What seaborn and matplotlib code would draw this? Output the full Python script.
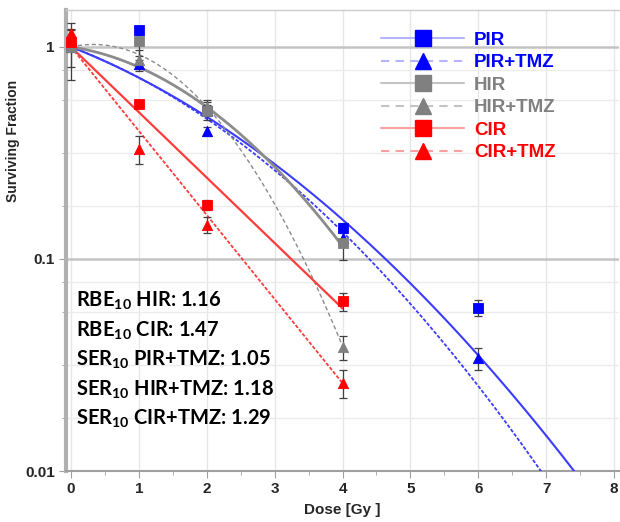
import numpy as np
import pandas as pd
import seaborn as sns
import matplotlib
matplotlib.use("Agg")
import matplotlib.pyplot as plt
from matplotlib.lines import Line2D
from matplotlib.ticker import FixedLocator, NullFormatter

series = ["PIR", "PIR+TMZ", "HIR", "HIR+TMZ", "CIR", "CIR+TMZ"]
dose = {
    "PIR": [0, 1, 2, 4, 6],
    "PIR+TMZ": [0, 1, 2, 4, 6],
    "HIR": [0, 1, 2, 4],
    "HIR+TMZ": [0, 1, 2, 4],
    "CIR": [0, 1, 2, 4],
    "CIR+TMZ": [0, 1, 2, 4],
}
sf = {
    "PIR": [1.0, 1.20, 0.50, 0.140, 0.059],
    "PIR+TMZ": [1.0, 0.83, 0.40, 0.126, 0.034],
    "HIR": [1.0, 1.07, 0.50, 0.119],
    "HIR+TMZ": [1.0, 0.87, 0.52, 0.0385],
    "CIR": [1.05, 0.54, 0.180, 0.063],
    "CIR+TMZ": [1.16, 0.33, 0.145, 0.026],
}
sf_err = {
    "PIR": [0.03, 0.06, 0.03, 0.008, 0.005],
    "PIR+TMZ": [0.03, 0.04, 0.02, 0.008, 0.004],
    "HIR": [0.3, 0.16, 0.05, 0.02],
    "HIR+TMZ": [0.2, 0.1, 0.04, 0.005],
    "CIR": [0.04, 0.02, 0.01, 0.006],
    "CIR+TMZ": [0.05, 0.05, 0.012, 0.004],
}
# linear-quadratic fit parameters (alpha, beta) and fitted dose range
lq_alpha = {"PIR": 0.29, "PIR+TMZ": 0.279, "HIR": 0.113, "HIR+TMZ": -0.16, "CIR": 0.71, "CIR+TMZ": 0.913}
lq_beta = {"PIR": 0.0447, "PIR+TMZ": 0.0558, "HIR": 0.107, "HIR+TMZ": 0.243, "CIR": 0.0, "CIR+TMZ": 0.0}
fit_max = {"PIR": 8.1, "PIR+TMZ": 8.1, "HIR": 4, "HIR+TMZ": 4, "CIR": 4, "CIR+TMZ": 4}

notes = [r"RBE$_{10}$ HIR: 1.16", r"RBE$_{10}$ CIR: 1.47", r"SER$_{10}$ PIR+TMZ: 1.05",
         r"SER$_{10}$ HIR+TMZ: 1.18", r"SER$_{10}$ CIR+TMZ: 1.29"]

# styles
mark_col = {"PIR": "#0000ff", "PIR+TMZ": "#0000ff", "HIR": "#808080", "HIR+TMZ": "#808080",
            "CIR": "#ff0000", "CIR+TMZ": "#ff0000"}
line_col = {"PIR": "#3c3cff", "PIR+TMZ": "#3c3cff", "HIR": "#8c8c8c", "HIR+TMZ": "#8c8c8c",
            "CIR": "#ff3c3c", "CIR+TMZ": "#ff3c3c"}
leg_line_col = {"PIR": "#b4b4ff", "PIR+TMZ": "#b4b4ff", "HIR": "#c4c4c4", "HIR+TMZ": "#c4c4c4",
                "CIR": "#ffa0a0", "CIR+TMZ": "#ffa0a0"}
line_dash = {"PIR": "-", "PIR+TMZ": (0, (2, 1)), "HIR": "-", "HIR+TMZ": (0, (3, 2)),
             "CIR": "-", "CIR+TMZ": (0, (2, 1))}
leg_dash = {"PIR": "-", "PIR+TMZ": (0, (4, 3)), "HIR": "-", "HIR+TMZ": (0, (4, 3)),
            "CIR": "-", "CIR+TMZ": (0, (4, 3))}
line_w = {"PIR": 1.5, "PIR+TMZ": 1.3, "HIR": 2.0, "HIR+TMZ": 1.0, "CIR": 1.6, "CIR+TMZ": 1.3}
marker = {s: ("s" if "TMZ" not in s else "^") for s in series}

sns.set_style("white")
plt.rcParams["font.family"] = ["Liberation Sans", "DejaVu Sans"]
plt.rcParams["font.weight"] = "bold"
plt.rcParams["mathtext.fontset"] = "custom"
plt.rcParams["mathtext.rm"] = "Lato:bold"
plt.rcParams["mathtext.default"] = "rm"

fig = plt.figure(figsize=(6.2, 5.22), dpi=100)
ax = fig.add_axes([0.1065, 0.0977, 0.8915, 0.8833])

# fitted curves
rows = []
for s in series:
    d = np.linspace(0, fit_max[s], 200)
    rows.append(pd.DataFrame({"dose": d, "sf": np.exp(-lq_alpha[s] * d - lq_beta[s] * d ** 2), "series": s}))
curves = pd.concat(rows)
for s in series:
    sns.lineplot(data=curves[curves.series == s], x="dose", y="sf", ax=ax, color=line_col[s],
                 linestyle=line_dash[s], lw=line_w[s], zorder=3)

# measured points with error bars
for s in series:
    ax.errorbar(dose[s], sf[s], yerr=sf_err[s], fmt="none", ecolor="#404040", elinewidth=0.9,
                capsize=3, capthick=0.9, zorder=4)
    sns.scatterplot(x=dose[s], y=sf[s], ax=ax, marker=marker[s], color=mark_col[s], s=55,
                    edgecolor=mark_col[s], zorder=5)

ax.set_yscale("log")
ax.set_xlim(-0.074, 8.07)
ax.set_ylim(0.01, 1.494)
ax.set_xticks(range(9))
ax.xaxis.set_minor_locator(FixedLocator(np.arange(0.5, 8, 1)))
ax.set_yticks([0.01, 0.1, 1])
ax.set_yticklabels(["0.01", "0.1", "1"])
minor_y = [10.0 ** (k + o) for k in (-2, -1, 0) for o in (-0.11, -0.25, -0.5, -0.75)]
ax.yaxis.set_minor_locator(FixedLocator([v for v in minor_y if v > 0.01]))
ax.yaxis.set_minor_formatter(NullFormatter())

ax.grid(True, which="major", axis="y", color="#c4c4c4", lw=1.8, zorder=0)
ax.grid(True, which="minor", axis="y", color="#ececec", lw=1.0, zorder=0)
ax.grid(True, which="major", axis="x", color="#e6e6e6", lw=1.0, zorder=0)
ax.tick_params(axis="both", which="major", direction="out", length=5, color="#a0a0a0",
               labelsize=11, pad=3, left=True, bottom=True)
ax.tick_params(axis="both", which="minor", direction="out", length=3, color="#a0a0a0",
               left=True, bottom=True)
for lab in ax.get_xticklabels() + ax.get_yticklabels():
    lab.set_fontweight("bold")

ax.spines["left"].set_color("#b0b0b0")
ax.spines["left"].set_linewidth(3)
ax.spines["bottom"].set_color("#a0a0a0")
ax.spines["bottom"].set_linewidth(1.5)
ax.spines["top"].set_color("#cccccc")
ax.spines["top"].set_linewidth(1)
ax.spines["right"].set_visible(False)

ax.set_xlabel("Dose [Gy ]", fontsize=11, fontweight="bold", labelpad=5)
ax.set_ylabel("Surviving Fraction", fontsize=10, fontweight="bold")
ax.yaxis.set_label_coords(-0.083, 0.716)

# annotation block
for i, t in enumerate(notes):
    ax.text(0.08, 0.1 * 10 ** (-(42 + 29.5 * i) / 212.0), t, fontsize=14.5, fontweight="bold",
            fontfamily="Lato", color="black", va="center", ha="left", zorder=6)

# legend
handles = [Line2D([0], [0], color=leg_line_col[s], linestyle=leg_dash[s], lw=1.5,
                  marker=marker[s], markersize=12, markerfacecolor=mark_col[s],
                  markeredgecolor=mark_col[s]) for s in series]
leg = ax.legend(handles, series, loc="upper left", bbox_to_anchor=(0.54, 0.99), frameon=False,
                handlelength=4.4, handletextpad=0.55, labelspacing=0.29,
                prop={"weight": "bold", "size": 13.5})
for txt, s in zip(leg.get_texts(), series):
    txt.set_color(mark_col[s])

fig.savefig("out.png", dpi=100)
